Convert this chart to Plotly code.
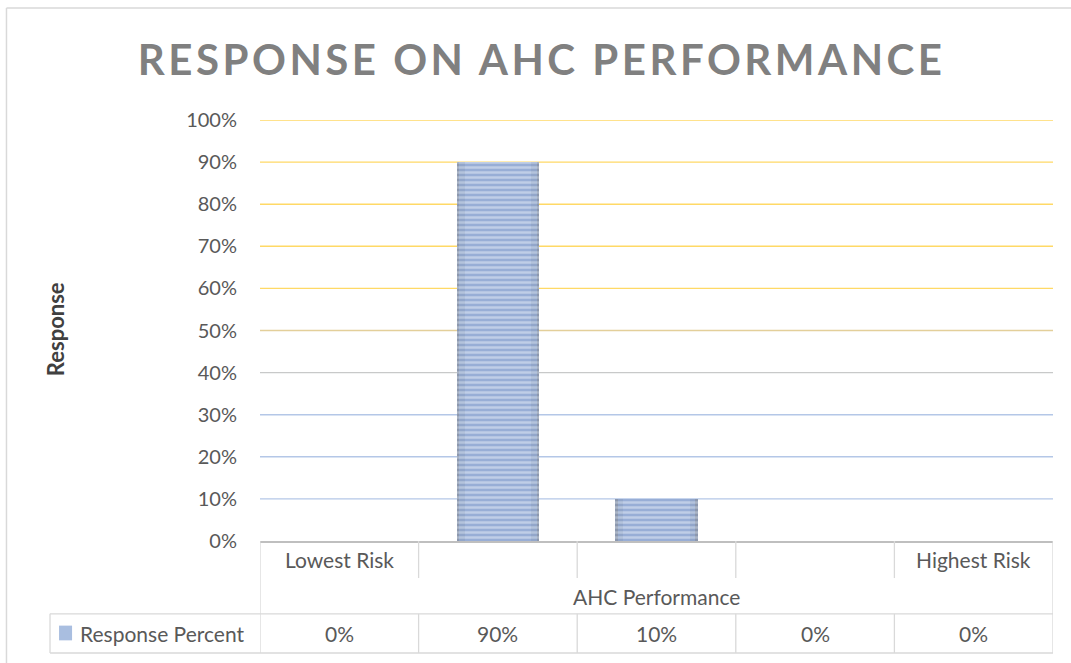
import plotly.graph_objects as go

# ---- data ----
categories = ["Lowest Risk", "", "", "", "Highest Risk"]
response_percent = [0.0, 0.90, 0.10, 0.0, 0.0]
series_name = "Response Percent"
y_ticks = [0.0, 0.1, 0.2, 0.3, 0.4, 0.5, 0.6, 0.7, 0.8, 0.9, 1.0]
title_text = "RESPONSE ON AHC PERFORMANCE"
x_title = "AHC Performance"
y_title = "Response"

# ---- style ----
FONT = "Lato"
TXT = "#595959"
TABLE_LINE = "#D9D9D9"
FS = 21
grid_colors = ["#BFBFBF", "#B4C7E7", "#B4C7E7", "#B4C7E7", "#C8C9C9", "#E3CF9A",
               "#FFD966", "#FFD966", "#FFD966", "#FFD966", "#FFD966"]

xs = list(range(len(categories)))
n = len(categories)

fig = go.Figure()

layers = [
    (0.52, "#8C98AE", "#C9D1DE"),
    (0.49, "#92A6CA", "#D6DFEE"),
    (0.42, "#98AED6", "#E6EDF8"),
]
for w, bg, fg in layers:
    fig.add_trace(go.Bar(
        x=xs, y=response_percent, width=w, name=series_name, showlegend=False,
        marker=dict(color=bg, line=dict(width=0),
                    pattern=dict(shape="-", bgcolor=bg, fgcolor=fg, size=5, solidity=0.5,
                                 fillmode="overlay")),
        hoverinfo="skip",
    ))

shapes = []
# gridlines
for v, c in zip(y_ticks, grid_colors):
    if v == 0:
        continue
    shapes.append(dict(type="line", xref="paper", yref="y", x0=0, x1=1, y0=v, y1=v,
                       line=dict(color=c, width=1.4), layer="below"))

# table geometry (paper fractions)
row1_bot = -0.088
row3_top = -0.173
row3_bot = -0.266
left_cell = -0.2648

def ln(x0, x1, y0, y1, xref="x", color=TABLE_LINE, w=1.3):
    shapes.append(dict(type="line", xref=xref, yref="paper", x0=x0, x1=x1, y0=y0, y1=y1,
                       line=dict(color=color, width=w)))

# outer verticals of plot table
ln(-0.5, -0.5, 0, row3_bot)
ln(n - 0.5, n - 0.5, 0, row3_bot)
# internal separators in category row and data row
for i in range(1, n):
    ln(i - 0.5, i - 0.5, 0, row1_bot)
    ln(i - 0.5, i - 0.5, row3_top, row3_bot)
# data row horizontals (including legend key cell)
shapes.append(dict(type="line", xref="paper", yref="paper", x0=left_cell, x1=1, y0=row3_top, y1=row3_top,
                   line=dict(color=TABLE_LINE, width=1.3)))
shapes.append(dict(type="line", xref="paper", yref="paper", x0=left_cell, x1=1, y0=row3_bot, y1=row3_bot,
                   line=dict(color=TABLE_LINE, width=1.3)))
shapes.append(dict(type="line", xref="paper", yref="paper", x0=left_cell, x1=left_cell, y0=row3_top, y1=row3_bot,
                   line=dict(color=TABLE_LINE, width=1.3)))
# legend key icon
shapes.append(dict(type="rect", xref="paper", yref="paper", x0=-0.2534, x1=-0.2370, y0=-0.201, y1=-0.236,
                   fillcolor="#A9BEE0", line=dict(width=0)))
# chart outer border
shapes.append(dict(type="line", xref="paper", yref="paper", x0=-0.3197, x1=1.1, y0=1.266, y1=1.266,
                   line=dict(color="#D9D9D9", width=1.5)))
shapes.append(dict(type="line", xref="paper", yref="paper", x0=-0.3197, x1=-0.3197, y0=1.266, y1=-0.35,
                   line=dict(color="#D9D9D9", width=1.5)))

annotations = []
# title
annotations.append(dict(text=title_text, xref="paper", yref="paper", x=0.3556, y=1.1449,
                        xanchor="center", yanchor="middle", showarrow=False,
                        font=dict(family=FONT, size=42, color="#808080", weight="bold")))
# y title
annotations.append(dict(text=y_title, xref="paper", yref="paper", x=-0.257, y=0.5036,
                        textangle=-90, xanchor="center", yanchor="middle", showarrow=False,
                        font=dict(family=FONT, size=22, color="#404040", weight="bold")))
# category labels
for x, c in zip(xs, categories):
    if c:
        annotations.append(dict(text=c, xref="x", yref="paper", x=x, y=-0.043,
                                xanchor="center", yanchor="middle", showarrow=False,
                                font=dict(family=FONT, size=FS, color=TXT)))
# x title
annotations.append(dict(text=x_title, xref="paper", yref="paper", x=0.5, y=-0.131,
                        xanchor="center", yanchor="middle", showarrow=False,
                        font=dict(family=FONT, size=FS, color=TXT)))
# data row
for x, v in zip(xs, response_percent):
    annotations.append(dict(text=f"{v:.0%}", xref="x", yref="paper", x=x, y=-0.219,
                            xanchor="center", yanchor="middle", showarrow=False,
                            font=dict(family=FONT, size=FS, color=TXT)))
annotations.append(dict(text=series_name, xref="paper", yref="paper", x=-0.2295, y=-0.219,
                        xanchor="left", yanchor="middle", showarrow=False,
                        font=dict(family=FONT, size=FS, color=TXT)))

fig.update_layout(
    width=1071, height=663,
    margin=dict(l=260, r=18, t=120, b=122),
    paper_bgcolor="white", plot_bgcolor="white",
    barmode="overlay", bargap=0,
    showlegend=False,
    font=dict(family=FONT, size=FS, color=TXT),
    shapes=shapes, annotations=annotations,
    xaxis=dict(range=[-0.5, n - 0.5], showticklabels=False, showgrid=False, zeroline=False,
               showline=True, linecolor="#BFBFBF", linewidth=1.5, ticks=""),
    yaxis=dict(range=[0, 1], tickvals=y_ticks, tickformat=".0%", showgrid=False, zeroline=False,
               showline=False, ticks="", ticklabelstandoff=22,
               tickfont=dict(family=FONT, size=20, color=TXT)),
)

post = """
document.body.style.margin = '0';
document.body.style.overflow = 'hidden';
var gd = document.getElementById('{plot_id}');
gd.querySelectorAll('.annotation-text').forEach(function(t){
  if (t.textContent.indexOf('RESPONSE ON') === 0) { t.style.letterSpacing = '3.5px'; }
});
"""
fig.write_html("out.html", post_script=post, config={"displayModeBar": False})
